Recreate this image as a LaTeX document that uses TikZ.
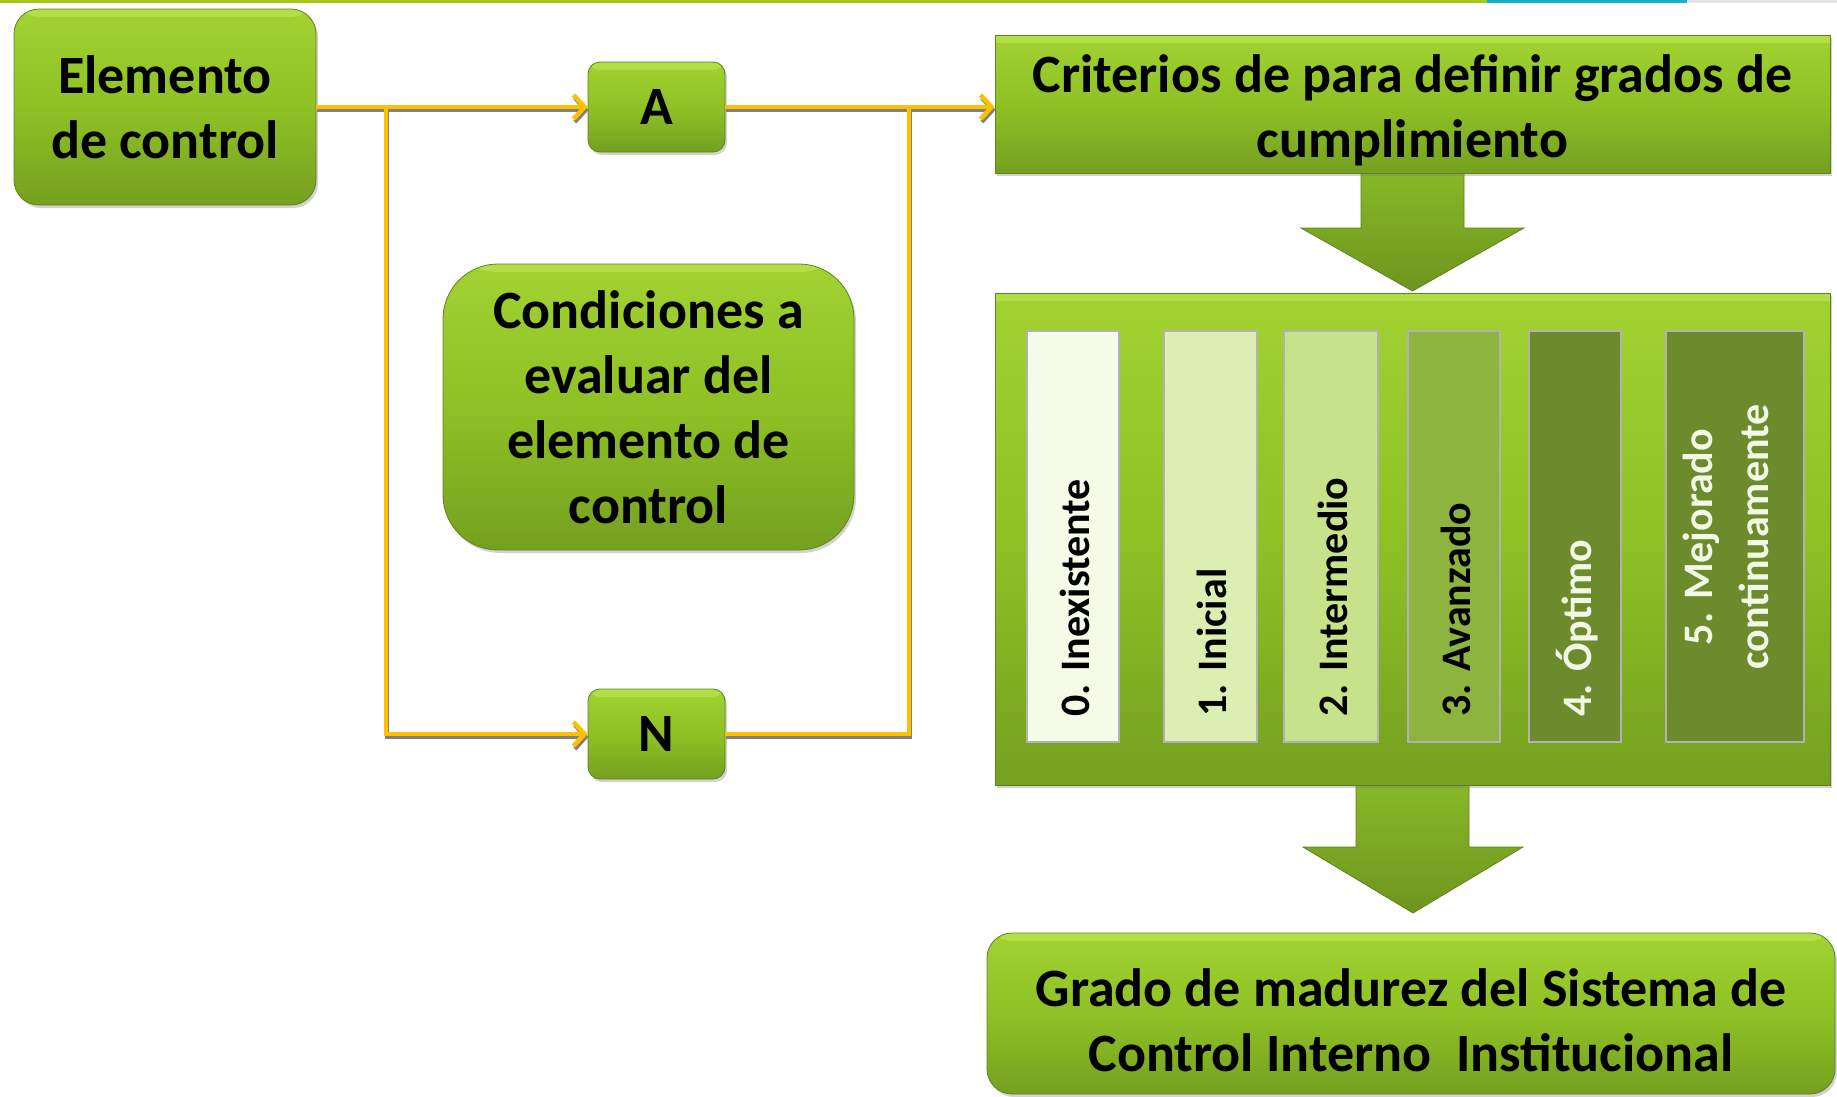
\documentclass[tikz,border=0pt]{standalone}
\usepackage{fontspec}
\setmainfont{Carlito}
\usetikzlibrary{arrows.meta,shadows,calc}
\definecolor{gtop}{HTML}{A2D232}
\definecolor{gmid}{HTML}{8FC125}
\definecolor{gbot}{HTML}{75A020}
\definecolor{gedge}{HTML}{5F831A}
\definecolor{gloss}{HTML}{C8F060}
\definecolor{atop}{HTML}{8ABB28}
\definecolor{abot}{HTML}{6E951F}
\definecolor{goldline}{HTML}{FFC000}
\definecolor{lvlA}{HTML}{F4FBE6}
\definecolor{lvlB}{HTML}{DCEFB2}
\definecolor{lvlC}{HTML}{C6E38B}
\definecolor{lvlD}{HTML}{8DB43E}
\definecolor{lvlE}{HTML}{6B8B2D}
\definecolor{paletext}{HTML}{F2F8E6}
\definecolor{stripgreen}{HTML}{A5C81A}
\definecolor{stripcyan}{HTML}{1AAFCB}
\definecolor{stripgray}{HTML}{E4E4E4}
\newcommand\bigfnt{\bfseries\fontsize{54}{65}\selectfont}
\newcommand\barfnt{\bfseries\fontsize{42}{56}\selectfont}
\begin{document}
\begin{tikzpicture}[x=1pt,y=-1pt,
  gbox/.style={shape=rectangle, top color=gtop, bottom color=gbot, middle color=gmid,
    draw=gedge, line width=0.8pt, font=\bigfnt, text=black, align=center, inner sep=0pt,
    drop shadow={shadow xshift=2pt, shadow yshift=-3pt, opacity=0.35},
    path picture={\fill[gloss,opacity=0.45] (path picture bounding box.north west) rectangle ([yshift=-8pt]path picture bounding box.north east);}},
  boxtext/.style={font=\bigfnt, text=black, align=center, inner sep=0pt},
  barbox/.style={shape=rectangle, draw=black!30, line width=1.5pt, inner sep=0pt,
    minimum height=411pt},
  bartext/.style={font=\barfnt, rotate=90, anchor=base west, inner sep=0pt},
  conn/.style={draw=goldline, line width=4.5pt, -{Straight Barb[length=11pt,width=24pt]},
    preaction={draw=black!50, line width=4pt, transform canvas={shift={(1pt,-3pt)}}}},
  connl/.style={draw=goldline, line width=4.5pt,
    preaction={draw=black!50, line width=4pt, transform canvas={shift={(1pt,-3pt)}}}},
  blockarrow/.style={top color=atop, bottom color=abot, draw=gedge, line width=0.8pt}
]
\useasboundingbox (0,0) rectangle (1837,1096);
\fill[white] (0,0) rectangle (1837,1096);
% top strip
\fill[stripgreen] (0,0) rectangle (1487,3);
\fill[stripcyan] (1487,0) rectangle (1687,3);
\fill[stripgray] (1687,0) rectangle (1837,3);
% block arrows
\shade[blockarrow] (1361,160) -- (1464,160) -- (1464,228) -- (1524,228) -- (1412.5,291) -- (1301,228) -- (1361,228) -- cycle;
\shade[blockarrow] (1356,775) -- (1469,775) -- (1469,847) -- (1523,847) -- (1413,913) -- (1303,847) -- (1356,847) -- cycle;
% boxes
\node[gbox, rounded corners=25pt, minimum width=302pt, minimum height=196pt] (el) at (165,107) {Elemento\\de control};
\node[gbox, rounded corners=12pt, minimum width=137pt, minimum height=90pt] (A) at (656.5,107) {A};
\node[gbox, rounded corners=12pt, minimum width=137pt, minimum height=90pt] (N) at (656.5,734) {N};
\node[gbox, rounded corners=55pt, minimum width=411pt, minimum height=286pt] (cond) at (648.5,407) {Condiciones a\\evaluar del\\elemento de\\control};
\node[gbox, minimum width=835pt, minimum height=138pt] (cr) at (1412.5,104) {};
\node[boxtext] (crt) at (1412.5,110) {Criterios de para definir grados de\\cumplimiento};
\node[gbox, minimum width=835pt, minimum height=492pt] (big) at (1412.5,539) {};
\node[gbox, rounded corners=25pt, minimum width=848pt, minimum height=161pt] (gr) at (1411,1013.5) {};
\node[boxtext] (grt) at (1411,1020) {Grado de madurez del Sistema de\\Control Interno\ \ Institucional};
% level bars
\node[barbox, fill=lvlA, minimum width=92pt] (b0) at (1073,536.5) {};
\node[barbox, fill=lvlB, minimum width=93pt] (b1) at (1210.5,536.5) {};
\node[barbox, fill=lvlC, minimum width=94pt] (b2) at (1331,536.5) {};
\node[barbox, fill=lvlD, minimum width=92pt] (b3) at (1454,536.5) {};
\node[barbox, fill=lvlE, minimum width=92pt] (b4) at (1575,536.5) {};
\node[barbox, fill=lvlE, minimum width=138pt] (b5) at (1735,536.5) {};
\node[bartext] (t0) at (1089,717) {0. Inexistente};
\node[bartext] (t1) at (1226.5,717) {1. Inicial};
\node[bartext] (t2) at (1347,717) {2. Intermedio};
\node[bartext] (t3) at (1470,717) {3. Avanzado};
\node[bartext, text=paletext] (t4) at (1591,717) {4. Óptimo};
\node[font=\barfnt, rotate=90, align=center, inner sep=0pt, text=paletext] (t5) at (1726,537) {5. Mejorado\\continuamente};
% connectors
\coordinate (br) at (386,107);
\coordinate (mg) at (909,107);
\draw[conn] (el.east) -- (A.west);
\draw[conn] (br) |- (N.west);
\draw[conn] (A.east) -- (A.east -| cr.west);
\draw[connl] (N.east) -| (mg);
\end{tikzpicture}
\end{document}
